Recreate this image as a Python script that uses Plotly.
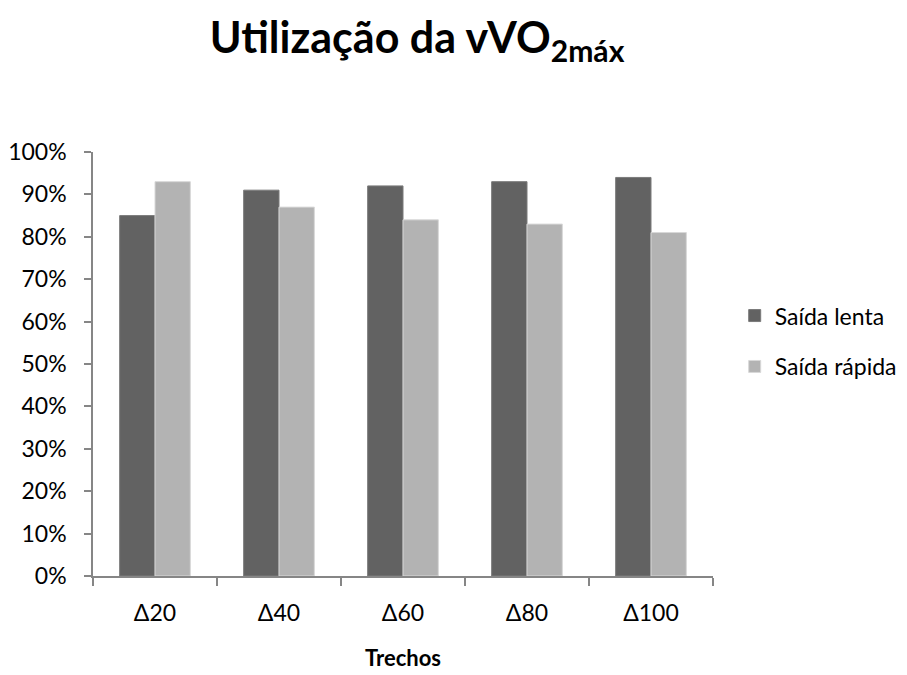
import plotly.graph_objects as go

categories = ["Δ20", "Δ40", "Δ60", "Δ80", "Δ100"]
saida_lenta = [0.85, 0.91, 0.92, 0.93, 0.94]
saida_rapida = [0.93, 0.87, 0.84, 0.83, 0.81]
y_ticks = [0, 0.1, 0.2, 0.3, 0.4, 0.5, 0.6, 0.7, 0.8, 0.9, 1.0]

FONT = "Lato"

fig = go.Figure()
fig.add_trace(go.Bar(
    x=categories, y=saida_lenta, name="Saída lenta", legendgroup="a",
    marker=dict(color="#626262", line=dict(color="#7a7a7a", width=1)),
))
fig.add_trace(go.Bar(
    x=categories, y=saida_rapida, name="Saída rápida", legendgroup="b",
    marker=dict(color="#b3b3b3", line=dict(color="#d8d8d8", width=1)),
))

# page body has an 8px default margin, so the figure is 8px smaller
fig.update_layout(
    width=899, height=667,
    paper_bgcolor="white", plot_bgcolor="white",
    margin=dict(l=85, r=194, t=144, b=99, autoexpand=False),
    barmode="group", bargap=0.43, bargroupgap=0,
    font=dict(family=FONT, color="black", size=23),
    title=dict(
        text="<b>Utilização da vVO<sub>2máx</sub></b>",
        font=dict(family=FONT, size=43, color="black"),
        x=0.455, xanchor="center", xref="container",
        y=0.955, yanchor="middle", yref="container",
    ),
    legend=dict(
        x=1.035, y=0.554, xanchor="left", yanchor="middle",
        traceorder="grouped", tracegroupgap=18, itemwidth=30,
        font=dict(family=FONT, size=23, color="black"),
        bgcolor="rgba(0,0,0,0)",
    ),
    xaxis=dict(
        showline=True, linecolor="#868686", linewidth=1.5,
        ticks="outside", tickson="boundaries", ticklen=8, tickcolor="#868686",
        tickwidth=1.5, showgrid=False, zeroline=False, automargin=False,
        ticklabelstandoff=16,
        tickfont=dict(family=FONT, size=23, color="black"),
        title=dict(text="<b>Trechos</b>", font=dict(family=FONT, size=22, color="black"), standoff=25),
    ),
    yaxis=dict(
        range=[0, 1], tickvals=y_ticks, tickformat=".0%",
        showline=True, linecolor="#868686", linewidth=1.5,
        ticks="outside", ticklen=7, tickcolor="#868686", tickwidth=1.5,
        showgrid=False, zeroline=False, ticklabelstandoff=13, automargin=False,
        tickfont=dict(family=FONT, size=23, color="black"),
    ),
)

fig.write_html("out.html")
